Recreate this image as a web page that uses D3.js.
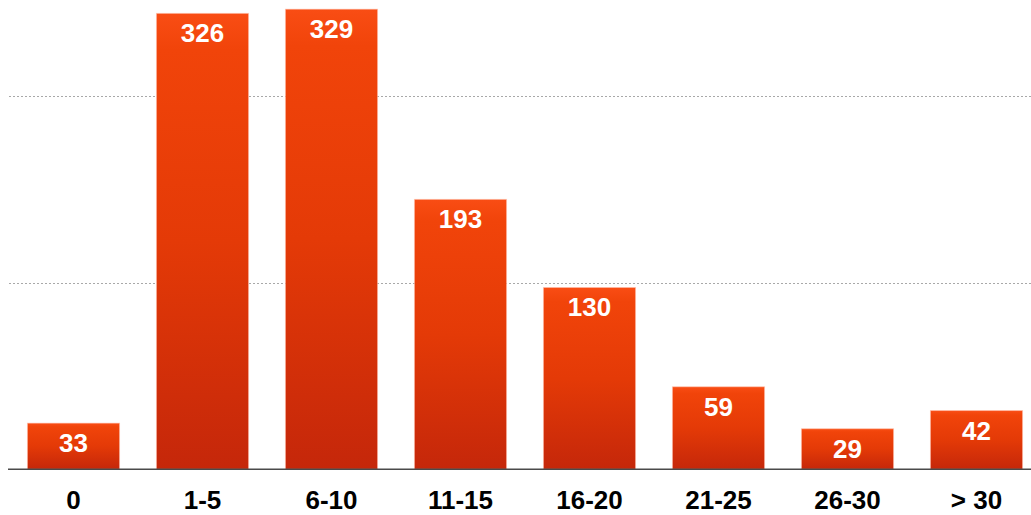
<!DOCTYPE html>
<html>
<head>
<meta charset="utf-8">
<script src="https://cdn.jsdelivr.net/npm/d3@7"></script>
<style>
  html, body { margin: 0; padding: 0; background: #fff; }
  svg { display: block; }
</style>
</head>
<body>
<svg id="chart" width="1031" height="515"></svg>
<script>
// Histogram buckets and their counts
const categories = ["0", "1-5", "6-10", "11-15", "16-20", "21-25", "26-30", "> 30"];
const counts = [33, 326, 329, 193, 130, 59, 29, 42];
// Value axis: maximum and dotted gridline positions
const yMax = 400;
const gridValues = [400 / 3, 800 / 3];

const W = 1031, H = 515;
const baseY = 469.3;
const svg = d3.select("#chart");

const x = d3.scaleBand()
  .domain(categories)
  .range([9, 1041])
  .paddingInner(0.286)
  .paddingOuter(0.143);

const y = d3.scaleLinear()
  .domain([0, yMax])
  .range([baseY, baseY - yMax * 1.3985]);

// vertical gradient applied to each bar
const defs = svg.append("defs");
const grad = defs.append("linearGradient")
  .attr("id", "barFill")
  .attr("x1", 0).attr("y1", 0).attr("x2", 0).attr("y2", 1);
[["0%", "#f94d14"], ["8%", "#f1440a"], ["50%", "#e43a07"], ["100%", "#c5270a"]]
  .forEach(([o, c]) => grad.append("stop").attr("offset", o).attr("stop-color", c));

// dotted gridlines
svg.append("g")
  .selectAll("line")
  .data(gridValues)
  .join("line")
  .attr("x1", 9).attr("x2", W)
  .attr("y1", d => Math.round(y(d)) + 0.5)
  .attr("y2", d => Math.round(y(d)) + 0.5)
  .attr("stroke", "#a8a8a8")
  .attr("stroke-width", 1)
  .attr("stroke-dasharray", "2,2");

// bars
svg.append("g")
  .selectAll("rect")
  .data(counts)
  .join("rect")
  .attr("x", (d, i) => x(categories[i]))
  .attr("width", x.bandwidth())
  .attr("y", d => y(d))
  .attr("height", d => y(0) - y(d))
  .attr("fill", "url(#barFill)")
  .attr("stroke", "rgba(255,190,170,0.55)")
  .attr("stroke-width", 1);

// value labels inside bar tops
svg.append("g")
  .selectAll("text")
  .data(counts)
  .join("text")
  .attr("x", (d, i) => x(categories[i]) + x.bandwidth() / 2)
  .attr("y", d => y(d) + 29)
  .attr("text-anchor", "middle")
  .attr("fill", "#fff")
  .attr("font-family", "'Liberation Sans', Arial, Helvetica, sans-serif")
  .attr("font-weight", "bold")
  .attr("font-size", 26)
  .text(d => d);

// baseline axis with category labels
const xAxis = svg.append("g")
  .attr("transform", `translate(0,${baseY})`)
  .call(d3.axisBottom(x).tickSize(0).tickPadding(0));
xAxis.select(".domain").remove();
xAxis.selectAll("text")
  .attr("y", 40)
  .attr("dy", 0)
  .attr("fill", "#000")
  .attr("font-family", "'Liberation Sans', Arial, Helvetica, sans-serif")
  .attr("font-weight", "bold")
  .attr("font-size", 26);

svg.append("line")
  .attr("x1", 8).attr("x2", W)
  .attr("y1", baseY).attr("y2", baseY)
  .attr("stroke", "#4a4a4a")
  .attr("stroke-width", 1.5);
</script>
</body>
</html>
